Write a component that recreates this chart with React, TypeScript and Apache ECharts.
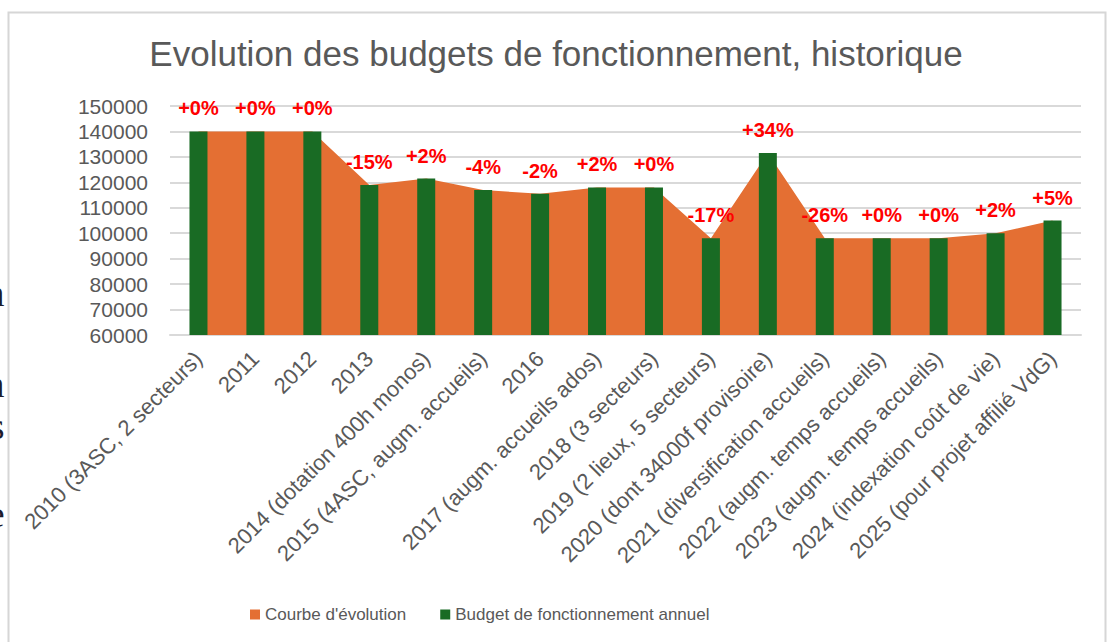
import React, { useEffect, useRef } from "react";
import * as echarts from "echarts";

const categories = [
  "2010 (3ASC, 2 secteurs)",
  "2011",
  "2012",
  "2013",
  "2014 (dotation 400h monos)",
  "2015 (4ASC, augm. accueils)",
  "2016",
  "2017 (augm. accueils ados)",
  "2018 (3 secteurs)",
  "2019 (2 lieux, 5 secteurs)",
  "2020 (dont 34000f provisoire)",
  "2021 (diversification accueils)",
  "2022 (augm. temps accueils)",
  "2023 (augm. temps accueils)",
  "2024 (indexation coût de vie)",
  "2025 (pour projet affilié VdG)",
];

const budgetValues = [
  140000, 140000, 140000, 119000, 121500, 117000, 115500, 118000, 118000,
  98000, 131500, 98000, 98000, 98000, 100000, 105000,
];

const curveValues = [
  140000, 140000, 140000, 119000, 121500, 117000, 115500, 118000, 118000,
  98000, 131500, 98000, 98000, 98000, 100000, 105000,
];

const changeLabels = [
  "+0%", "+0%", "+0%", "-15%", "+2%", "-4%", "-2%", "+2%", "+0%",
  "-17%", "+34%", "-26%", "+0%", "+0%", "+2%", "+5%",
];

const yTicks = { min: 60000, max: 150000, interval: 10000 };

const fragments = [
  { t: "n", y: 293 },
  { t: "n", y: 384 },
  { t: "s", y: 426 },
  { t: "e", y: 514 },
];

export default function App() {
  const ref = useRef<HTMLDivElement>(null);

  useEffect(() => {
    if (!ref.current) return;
    const chart = echarts.init(ref.current, null, { renderer: "svg" });
    const gray = "#595959";
    chart.setOption({
      animation: false,
      backgroundColor: "#ffffff",
      title: {
        text: "Evolution des budgets de fonctionnement, historique",
        left: "center",
        top: 31,
        textStyle: {
          fontFamily: "Liberation Sans, Arial, sans-serif",
          fontSize: 35,
          fontWeight: "normal",
          color: gray,
        },
      },
      legend: {
        left: 245,
        top: 601,
        itemWidth: 10,
        itemHeight: 10,
        itemGap: 34,
        icon: "rect",
        textStyle: {
          fontFamily: "Liberation Sans, Arial, sans-serif",
          fontSize: 17,
          color: gray,
        },
        data: ["Courbe d'évolution", "Budget de fonctionnement annuel"],
      },
      grid: { left: 170, top: 106, width: 911, height: 229, containLabel: false },
      xAxis: {
        type: "category",
        data: categories,
        boundaryGap: true,
        axisLine: { show: true, lineStyle: { color: "#D9D9D9", width: 2 } },
        axisTick: { show: false },
        axisLabel: {
          interval: 0,
          rotate: 45,
          margin: 20,
          fontFamily: "Liberation Sans, Arial, sans-serif",
          fontSize: 22,
          color: gray,
        },
      },
      yAxis: {
        type: "value",
        min: yTicks.min,
        max: yTicks.max,
        interval: yTicks.interval,
        axisLine: { show: false },
        axisTick: { show: false },
        splitLine: { lineStyle: { color: "#D9D9D9", width: 2 } },
        axisLabel: {
          margin: 22,
          formatter: (v: number) => String(v),
          fontFamily: "Liberation Sans, Arial, sans-serif",
          fontSize: 21,
          color: gray,
        },
      },
      series: [
        {
          name: "Courbe d'évolution",
          type: "line",
          data: curveValues,
          symbol: "none",
          showSymbol: false,
          itemStyle: { color: "#E46F33" },
          lineStyle: { width: 0, color: "#E46F33" },
          areaStyle: { color: "#E46F33", opacity: 1, origin: "start" },
          z: 2,
        },
        {
          name: "Budget de fonctionnement annuel",
          type: "bar",
          data: budgetValues,
          barWidth: 18,
          itemStyle: { color: "#196B24" },
          z: 3,
          label: {
            show: true,
            position: "top",
            distance: 13,
            formatter: (p: any) => changeLabels[p.dataIndex],
            fontFamily: "Liberation Sans, Arial, sans-serif",
            fontWeight: "bold",
            fontSize: 20,
            color: "#FF0000",
          },
        },
      ],
      graphic: [
        {
          type: "rect",
          shape: { x: 8.5, y: 12.5, width: 1097, height: 700 },
          style: { fill: "none", stroke: "#D6D6D6", lineWidth: 2 },
          silent: true,
        },
        ...fragments.map((f) => ({
          type: "text",
          x: 4.5,
          y: f.y,
          style: {
            text: f.t,
            fontFamily: "Liberation Serif, Times New Roman, serif",
            fontSize: 38,
            fill: "#1c1c2c",
            align: "right",
            verticalAlign: "middle",
          },
          silent: true,
        })),
      ],
    });
    return () => chart.dispose();
  }, []);

  return (
    <div
      ref={ref}
      style={{ position: "fixed", left: 0, top: 0, width: 1112, height: 642 }}
    />
  );
}
